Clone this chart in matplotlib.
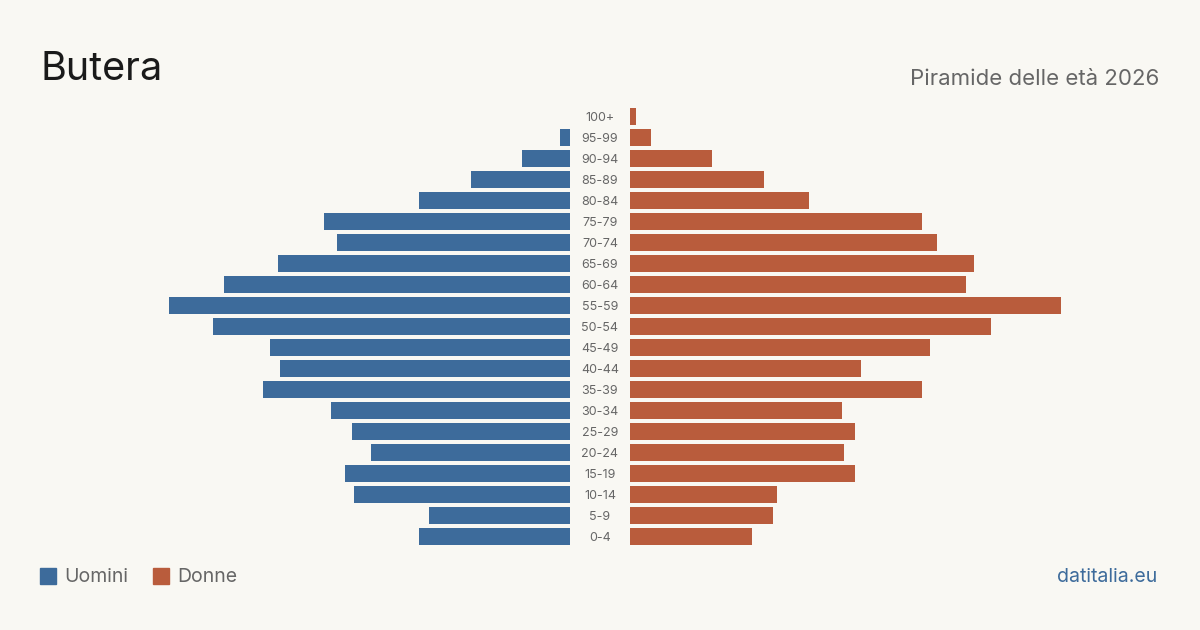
import matplotlib
matplotlib.use("Agg")
import matplotlib.pyplot as plt
from matplotlib.patches import Rectangle

plt.rcParams['font.family'] = ['Inter', 'DejaVu Sans']

age_groups = ["100+", "95-99", "90-94", "85-89", "80-84", "75-79", "70-74", "65-69",
              "60-64", "55-59", "50-54", "45-49", "40-44", "35-39", "30-34", "25-29",
              "20-24", "15-19", "10-14", "5-9", "0-4"]
men = [0, 5, 23, 47, 72, 117, 111, 139, 165, 191, 170, 143, 138, 146, 114, 104,
       95, 107, 103, 67, 72]
women = [3, 10, 39, 64, 85, 139, 146, 164, 160, 205, 172, 143, 110, 139, 101, 107,
         102, 107, 70, 68, 58]

title = "Butera"
subtitle = "Piramide delle età 2026"
legend_labels = ["Uomini", "Donne"]
source = "datitalia.eu"

BG = "#f9f8f3"
BLUE = "#3d6b9b"
RED = "#b95c3c"

W, H = 1200, 630
fig = plt.figure(figsize=(12, 6.3), dpi=100, facecolor=BG)

scale_max = 210.0
px_per_unit = 2.1
span = scale_max * px_per_unit
top_px, bottom_px = 106.0, 547.0
yb = (H - bottom_px) / H
hh = (bottom_px - top_px) / H

axL = fig.add_axes([(570 - span) / W, yb, span / W, hh])
axR = fig.add_axes([630 / W, yb, span / W, hh])

n = len(age_groups)
ypos = list(range(n))
for ax, vals, col in ((axL, men, BLUE), (axR, women, RED)):
    ax.barh(ypos, vals, height=0.8, color=col)
    ax.set_ylim(n - 0.5, -0.5)
    ax.set_facecolor("none")
    ax.axis("off")
axL.set_xlim(scale_max, 0)
axR.set_xlim(0, scale_max)

for i, lab in enumerate(age_groups):
    y = (H - (top_px + 12.0 + 21 * i)) / H
    fig.text(600 / W, y, lab, ha="center", va="center", fontsize=9, color="#666666")

fig.text(40 / W, (H - 69) / H, title, fontsize=28.5, color="#1a1a1a", va="center", ha="left")
fig.text(1159 / W, (H - 79) / H, subtitle, fontsize=16, color="#666666", va="center", ha="right")

# legend
fig.patches.append(Rectangle((40 / W, (H - 584) / H), 16 / W, 16 / H, transform=fig.transFigure,
                             color=BLUE, figure=fig))
fig.text(64 / W, (H - 577.5) / H, legend_labels[0], fontsize=14, color="#666666", va="center")
fig.patches.append(Rectangle((153 / W, (H - 584) / H), 16 / W, 16 / H, transform=fig.transFigure,
                             color=RED, figure=fig))
fig.text(177 / W, (H - 577.5) / H, legend_labels[1], fontsize=14, color="#666666", va="center")

fig.text(1157 / W, (H - 577.5) / H, source, fontsize=14, color=BLUE, va="center", ha="right")

fig.savefig("out.png", dpi=100, facecolor=BG)
